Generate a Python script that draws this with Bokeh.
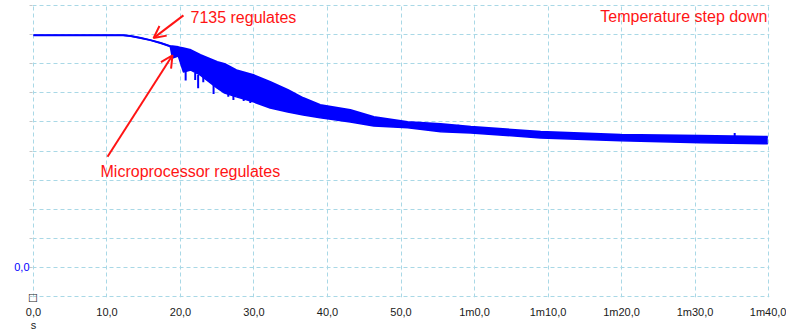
from bokeh.plotting import figure
from bokeh.models import Label, Arrow, OpenHead, FixedTicker, Range1d, ColumnDataSource, LinearAxis
from bokeh.embed import file_html
from bokeh.resources import INLINE

# ---- data ----
t_env = [0, 12.2, 13.2, 14.6, 15.9, 17.3, 18.6, 18.9, 19.7, 20.4, 21.4, 22.7, 25.0, 26.0,
         27.6, 29.9, 32.2, 34.6, 36.7, 39.0, 43.1, 46.3, 50.9, 55.4, 59.5, 69.0, 79.9, 90.7, 99.9]
upper = [7.98, 7.98, 7.95, 7.88, 7.81, 7.71, 7.60, 7.60, 7.57, 7.53, 7.47, 7.30, 7.06, 6.99,
         6.78, 6.61, 6.37, 6.10, 5.82, 5.58, 5.41, 5.17, 5.00, 4.93, 4.83, 4.66, 4.56, 4.52, 4.49]
lower = [7.98, 7.98, 7.95, 7.88, 7.81, 7.71, 7.60, 7.19, 7.26, 6.71, 6.78, 6.61, 6.16, 5.99,
         5.86, 5.69, 5.48, 5.34, 5.24, 5.14, 5.00, 4.86, 4.80, 4.66, 4.62, 4.45, 4.35, 4.28, 4.25]

spike_t = [20.7, 22.0, 22.4, 23.1, 24.5, 26.5, 27.2, 28.6, 29.5, 31.8, 34.0, 36.3, 57.8, 95.4]
spike_top = [6.80, 6.68, 6.61, 6.55, 6.27, 6.03, 5.92, 5.82, 5.75, 5.62, 5.51, 5.34, 4.90, 4.62]
spike_bot = [6.42, 6.44, 6.16, 6.36, 5.96, 5.86, 5.75, 5.72, 5.65, 5.51, 5.41, 5.24, 4.83, 4.49]

x_ticks = [0, 10, 20, 30, 40, 50, 60, 70, 80, 90, 100]
x_tick_labels = ["0,0", "10,0", "20,0", "30,0", "40,0", "50,0",
                 "1m0,0", "1m10,0", "1m20,0", "1m30,0", "1m40,0"]
y_ticks = [-1, 0, 1, 2, 3, 4, 5, 6, 7, 8, 9]
y_tick_labels = {0: "0,0"}
x_unit = "s"
origin_marker = "\u2610"

# annotation anchors (data units)
ann1_text = "7135 regulates"
ann1_pos = (21.36, 8.60)
ann1_arrow = (20.4, 8.66, 16.33, 7.88)
ann2_text = "Microprocessor regulates"
ann2_pos = (9.12, 3.29)
ann2_arrow = (10.07, 3.80, 18.91, 7.29)
ann3_text = "Temperature step down"
ann3_pos = (99.86, 8.63)

FONT = "Liberation Sans"
GRID = "#a9d8e6"
RED = "#ff1414"
BLUE = "#0000ff"

p = figure(width=786, height=333,
           x_range=Range1d(-0.136, 100.136), y_range=Range1d(-1.034, 9.034),
           output_backend="svg", toolbar_location=None,
           min_border_left=32, min_border_right=17, min_border_top=4, min_border_bottom=35)
p.outline_line_color = None
p.background_fill_color = "white"
p.border_fill_color = "white"

for g, ticks in ((p.xgrid, x_ticks), (p.ygrid, y_ticks)):
    g.ticker = FixedTicker(ticks=ticks)
    g.grid_line_color = GRID
    g.grid_line_dash = "4 3"
    g.grid_line_width = 1

xa = p.xaxis[0]
xa.ticker = FixedTicker(ticks=x_ticks)
xa.major_label_overrides = {t: (origin_marker if t == 0 else "") + "\n" + l
                            for t, l in zip(x_ticks, x_tick_labels)}
xa.axis_line_color = None
xa.major_tick_line_color = None
xa.minor_tick_line_color = None
xa.major_tick_out = 0
xa.major_label_standoff = -6
xa.major_label_text_font = FONT
xa.major_label_text_font_size = "11px"
xa.major_label_text_color = "#1a1a1a"

# unit label "s" under the first tick, as a second bottom axis
ua = LinearAxis(ticker=FixedTicker(ticks=[0]), major_label_overrides={0: x_unit},
                axis_line_color=None, major_tick_line_color=None, minor_tick_line_color=None,
                major_tick_out=0, major_tick_in=0, major_label_standoff=-2,
                major_label_text_font=FONT, major_label_text_font_size="11px",
                major_label_text_color="#1a1a1a")
p.add_layout(ua, "below")

ya = p.yaxis[0]
ya.ticker = FixedTicker(ticks=y_ticks)
ya.major_label_overrides = {t: y_tick_labels.get(t, "") for t in y_ticks}
ya.axis_line_color = None
ya.major_tick_line_color = "#c8c8c8"
ya.major_tick_out = 3
ya.major_tick_in = 0
ya.minor_tick_line_color = None
ya.major_label_standoff = 0
ya.major_label_text_font = FONT
ya.major_label_text_font_size = "11px"
ya.major_label_text_color = BLUE

src = ColumnDataSource(dict(t=t_env, up=upper, lo=lower))
p.varea(x="t", y1="lo", y2="up", source=src, fill_color=BLUE)
p.line(x="t", y="up", source=src, line_color=BLUE, line_width=2)
p.line(x="t", y="lo", source=src, line_color=BLUE, line_width=1.5)
p.segment(x0=spike_t, y0=spike_bot, x1=spike_t, y1=spike_top, line_color=BLUE, line_width=2)

# annotations
def txt(text, pos, align):
    p.add_layout(Label(x=pos[0], y=pos[1], text=text, text_align=align, text_baseline="middle",
                       text_font=FONT, text_font_size="16px", text_color=RED))

txt(ann1_text, ann1_pos, "left")
txt(ann2_text, ann2_pos, "left")
txt(ann3_text, ann3_pos, "right")
for a in (ann1_arrow, ann2_arrow):
    p.add_layout(Arrow(x_start=a[0], y_start=a[1], x_end=a[2], y_end=a[3],
                       line_color=RED, line_width=2,
                       end=OpenHead(size=12, line_color=RED, line_width=2)))

open("out.html", "w").write(file_html(p, INLINE))
